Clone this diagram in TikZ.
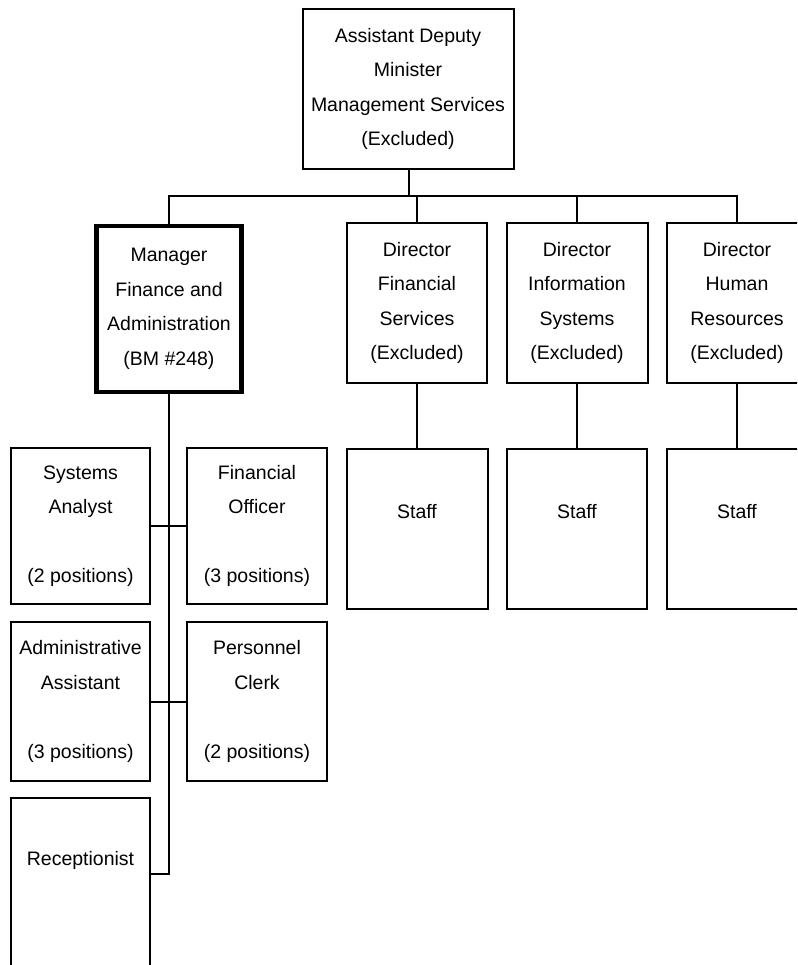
\documentclass[tikz,border=0pt]{standalone}
\usepackage{fontspec}
\setmainfont{Liberation Sans}
\begin{document}
\begin{tikzpicture}[x=1pt,y=-1pt,
  line width=2pt,
  box/.style={draw, rectangle, inner sep=0pt, align=center,
    font={\fontsize{19.5}{34.5}\selectfont}},
  thickbox/.style={box, line width=4.5pt},
  conn/.style={draw, line width=2pt}]
\useasboundingbox (0,0) rectangle (797,965);
\clip (0,0) rectangle (797,965);
\fill[white] (0,0) rectangle (797,965);

% top
\node[box, minimum width=211pt, minimum height=160pt] (adm) at (408,89)
  {Assistant Deputy\\Minister\\Management Services\\(Excluded)};

% second level
\node[thickbox, minimum width=145pt, minimum height=166pt] (mgr) at (169,309)
  {Manager\\Finance and\\Administration\\(BM \#248)};
\node[box, minimum width=140pt, minimum height=160pt] (dfs) at (417,303)
  {Director\\Financial\\Services\\(Excluded)};
\node[box, minimum width=141pt, minimum height=160pt] (dis) at (577,303)
  {Director\\Information\\Systems\\(Excluded)};
\node[box, minimum width=140pt, minimum height=160pt] (dhr) at (737,303)
  {Director\\Human\\Resources\\(Excluded)};

% staff
\node[box, minimum width=141pt, minimum height=160pt] (s1) at (417,529) {Staff\\\mbox{}};
\node[box, minimum width=140pt, minimum height=160pt] (s2) at (577,529) {Staff\\\mbox{}};
\node[box, minimum width=140pt, minimum height=160pt] (s3) at (737,529) {Staff\\\mbox{}};

% manager's reports
\node[box, minimum width=139pt, minimum height=156pt] (sa) at (80.5,526)
  {Systems\\Analyst\\\mbox{}\\(2 positions)};
\node[box, minimum width=140pt, minimum height=156pt] (fo) at (257,526)
  {Financial\\Officer\\\mbox{}\\(3 positions)};
\node[box, minimum width=139pt, minimum height=159pt] (aa) at (80.5,701.5)
  {Administrative\\Assistant\\\mbox{}\\(3 positions)};
\node[box, minimum width=140pt, minimum height=159pt] (pc) at (257,701.5)
  {Personnel\\Clerk\\\mbox{}\\(2 positions)};
\node[box, minimum width=139pt, minimum height=189pt] (rec) at (80.5,892.5)
  {Receptionist\\\mbox{}\\\mbox{}};

% connectors
\coordinate (bus) at (409,196);
\draw[conn] (bus |- adm.south) -- (bus);
\draw[conn] (mgr.north) |- (bus) -| (dhr.north);
\draw[conn] (dfs.north) -- (dfs.north |- bus);
\draw[conn] (dis.north) -- (dis.north |- bus);
\draw[conn] (dfs.south) -- (s1.north);
\draw[conn] (dis.south) -- (s2.north);
\draw[conn] (dhr.south) -- (s3.north);
\coordinate (tend) at (169,874);
\draw[conn] (mgr.south) -- (tend) -- (tend -| rec.east);
\draw[conn] (sa.east) -- (fo.west);
\draw[conn] (aa.east) -- (pc.west);
\end{tikzpicture}
\end{document}
